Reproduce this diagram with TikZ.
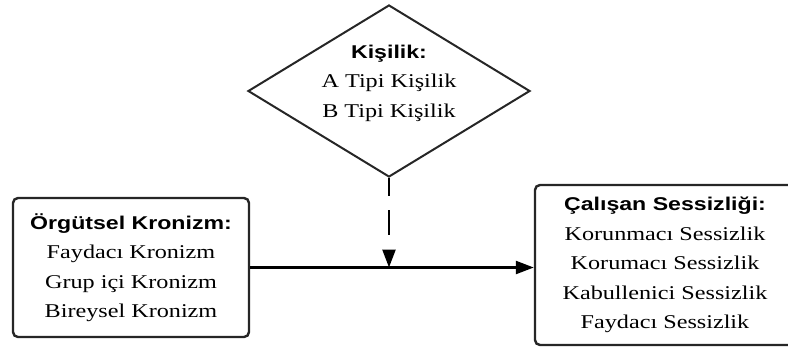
\documentclass[tikz,border=0pt]{standalone}
\usepackage{fontspec}
\setmainfont{Liberation Serif}[FakeStretch=1.24]
\newfontfamily\headfont{Liberation Sans}[FakeStretch=1.25]
\usetikzlibrary{shapes.geometric,arrows.meta}
\begin{document}
\begin{tikzpicture}[x=1pt,y=-1pt,
  box/.style={draw=black!85,line width=2.4pt,rounded corners=5pt,fill=white,
    align=center,inner sep=0pt,font=\fontsize{19.5}{29.5}\selectfont},
  dia/.style={draw=black!85,line width=2pt,diamond,inner sep=0pt,
    minimum width=282pt,minimum height=172pt},
  txt/.style={align=center,inner sep=0pt,font=\fontsize{19.5}{29.5}\selectfont},
  conn/.style={line width=2.4pt,-{Triangle[length=18pt,width=13pt]}},
  hd/.style={}
]
\clip (0,0) rectangle (788,349);
\node[dia] (kis) at (389,91) {};
\node[txt] (kist) at (389,83) {{\headfont\bfseries\fontsize{18.5}{29.5}\selectfont Kişilik:}\\A Tipi Kişilik\\B Tipi Kişilik};
\node[box,minimum width=236pt,minimum height=139pt] (org) at (131,267.5)
  {{\headfont\bfseries\fontsize{18.5}{29.5}\selectfont Örgütsel Kronizm:}\\Faydacı Kronizm\\Grup içi Kronizm\\Bireysel Kronizm};
\node[box,minimum width=260pt,minimum height=160pt] (cal) at (665,265)
  {{\headfont\bfseries\fontsize{18.5}{31}\selectfont Çalışan Sessizliği:}\\Korunmacı Sessizlik\\Korumacı Sessizlik\\Kabullenici Sessizlik\\Faydacı Sessizlik};
\draw[conn] (org.east) -- (org.east -| cal.west);
\draw[conn,dash pattern=on 18pt off 14pt on 25pt off 40pt] (kis.south) -- (kis.south |- org.east);
\end{tikzpicture}
\end{document}
